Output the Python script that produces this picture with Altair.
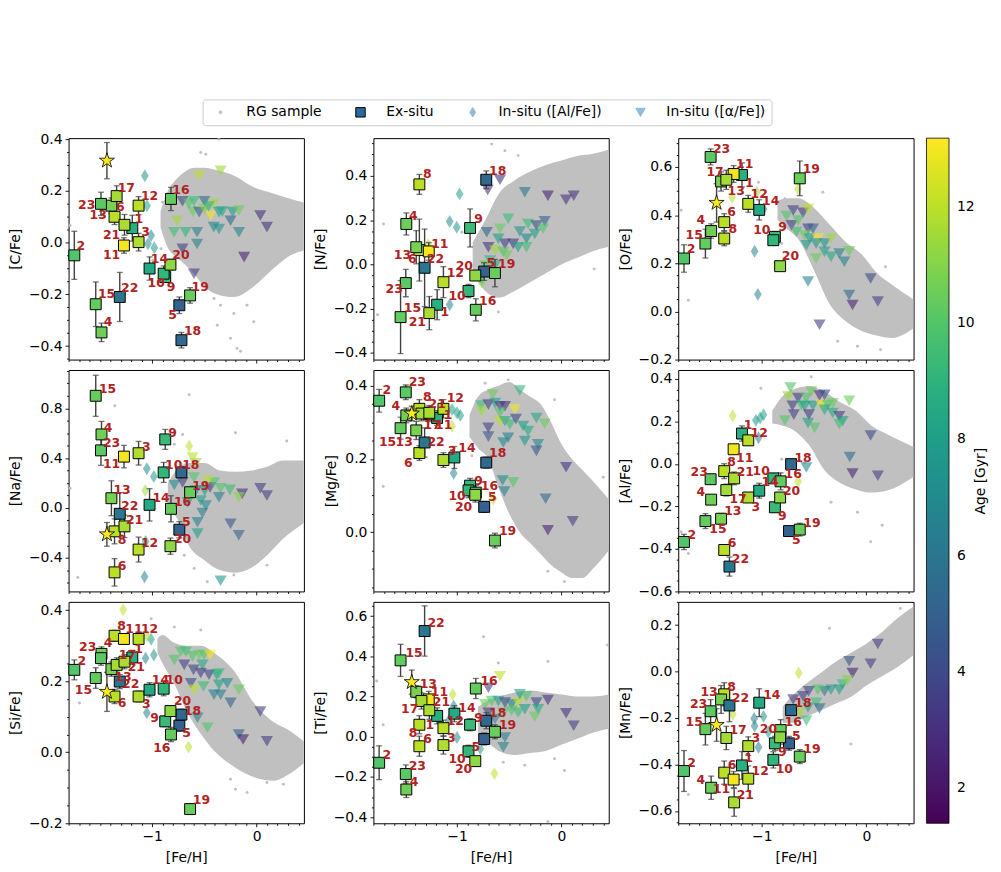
import math
import altair as alt
import pandas as pd

FONT = "DejaVu Sans"
GRAY = "#c0c0c0"
ERRC = "#404040"
RED = "#b22222"
X_DOMAIN = [-1.8, 0.452]
AGE_DOMAIN = [1.39, 13.19]
PANEL_W, PANEL_H = 237, 223

STAR_PATH = "M0,-1L0.225,-0.309L0.951,-0.309L0.363,0.118L0.588,0.809L0,0.382L-0.588,0.809L-0.363,0.118L-0.951,-0.309L-0.225,-0.309Z"
THIN_DIAMOND = "M0,-1L0.6,0L0,1L-0.6,0Z"
DOT = "M0.3,0A0.3,0.3,0,1,1,-0.3,0A0.3,0.3,0,1,1,0.3,0Z"

# ---------------- ex-situ objects (id -> [Fe/H], age) ----------------
EX_ID = [1, 2, 3, 4, 5, 6, 8, 9, 10, 11, 12, 13, 14, 15, 16, 17, 18, 19, 20, 21, 22, 23]
EX_FEH = [-1.19, -1.745, -1.13, -1.485, -0.74, -1.36, -1.36, -0.875, -0.89, -1.27, -1.13,
          -1.39, -1.025, -1.54, -0.82, -1.34, -0.72, -0.637, -0.825, -1.265, -1.31, -1.49]
EX_AGE = [8.8, 10.0, 11.8, 10.6, 5.0, 12.0, 12.0, 9.4, 9.2, 13.0, 12.0,
          10.8, 8.5, 10.4, 10.4, 11.6, 5.3, 10.5, 11.2, 11.7, 6.0, 10.2]
STAR_FEH = -1.433
STAR_AGE = 13.1

KINDS = ["RG sample", "Ex-situ", "In-situ ([Al/Fe])", "In-situ ([α/Fe])"]
KIND_FILL = [GRAY, "#2c6a9e", "#8fbbd9", "#8fbbd9"]
KIND_STROKE = [GRAY, "black", "#8fbbd9", "#8fbbd9"]
KIND_SHAPE = [DOT, "square", THIN_DIAMOND, "triangle-down"]
AGE_TICKS = [2, 4, 6, 8, 10, 12]

# ---------------- [C/Fe] ----------------
C_EX = [(1, 0.056, 0.05, -1.127, 0.092), (2, -0.049, 0.093, -1.684, -0.013), (3, 0.002, 0.034, -1.063, 0.04),
        (4, -0.347, 0.036, -1.421, -0.306), (5, -0.242, 0.032, -0.804, -0.28), (6, 0.10, 0.03, -1.304, 0.137),
        (9, -0.133, 0.02, -0.82, -0.171), (10, -0.12, 0.03, -0.962, -0.155), (11, -0.011, 0.03, -1.389, -0.047),
        (12, 0.143, 0.035, -1.025, 0.179), (13, 0.143, 0.03, -1.516, 0.105), (14, -0.10, 0.045, -0.93, -0.062),
        (15, -0.238, 0.086, -1.437, -0.197), (16, 0.169, 0.045, -0.725, 0.205), (17, 0.18, 0.04, -1.247, 0.21),
        (18, -0.377, 0.03, -0.614, -0.342), (19, -0.204, 0.03, -0.541, -0.171), (20, -0.085, 0.02, -0.725, -0.049),
        (21, 0.069, 0.04, -1.389, 0.03), (22, -0.21, 0.095, -1.215, -0.175), (23, 0.15, 0.045, -1.627, 0.146)]
C_STAR = (0.317, 0.07)
C_TRI = [(-0.71, 0.16, 4), (-0.79, 0.04, 9.5), (-0.68, 0.04, 9), (-0.76, 0.085, 11.5), (-0.61, 0.12, 10.5),
         (-0.55, 0.118, 5), (-0.50, 0.16, 5.5), (-0.44, 0.105, 13), (-0.41, 0.15, 11.5), (-0.36, 0.118, 8),
         (-0.33, 0.12, 8.5), (-0.25, 0.085, 5.5), (-0.23, 0.118, 8), (-0.17, 0.124, 10.5), (-0.17, 0.04, 6.5),
         (-0.36, 0.053, 7.5), (-0.41, 0.06, 7), (-0.57, 0.04, 6.5), (-0.57, -0.005, 6.5), (-0.71, -0.024, 3.5),
         (-0.60, -0.12, 3.5), (-0.12, -0.056, 2.5), (0.035, 0.105, 3), (0.098, 0.06, 3), (-0.55, 0.259, 12),
         (-0.345, 0.278, 11.5), (-0.65, 0.15, 10), (-0.5, 0.13, 11), (-0.46, 0.14, 9), (-0.6, 0.16, 9.5)]
C_DIA = [(-1.07, 0.259, 7.5), (-1.05, 0.143, 8), (-1.01, 0.028, 7), (-1.04, -0.004, 7), (-0.98, -0.02, 7.5)]
C_RG_X = [-0.92, -0.85, -0.79, -0.7, -0.6, -0.5, -0.376, -0.22, -0.03, 0.16, 0.32, 0.452]
C_RG_HI = [0.12, 0.2, 0.235, 0.27, 0.29, 0.29, 0.28, 0.26, 0.215, 0.19, 0.17, 0.155]
C_RG_LO = [0.06, -0.02, -0.05, -0.08, -0.12, -0.17, -0.2, -0.21, -0.17, -0.1, -0.05, -0.03]
C_RG_PTS = [(-1.785, 0.066), (-0.361, 0.4), (-0.9, 0.156), (-0.994, -0.069), (-0.487, 0.342), (-0.408, -0.216),
            (-0.377, -0.319), (-0.25, -0.37), (-0.187, -0.409), (-0.155, -0.42), (-0.345, -0.242),
            (-0.218, -0.274), (-0.092, -0.242), (-0.028, -0.306), (-0.535, 0.349), (-0.915, -0.024)]

# ---------------- [N/Fe] ----------------
N_EX = [(1, -0.182, 0.068, -1.117, -0.215), (4, 0.183, 0.05, -1.418, 0.221), (5, -0.032, 0.04, -0.674, 0.006),
        (6, 0.065, 0.14, -1.427, 0.026), (8, 0.362, 0.045, -1.285, 0.409), (9, 0.165, 0.086, -0.794, 0.206),
        (10, -0.12, 0.03, -1.0, -0.144), (11, 0.059, 0.04, -1.165, 0.093), (12, -0.08, 0.07, -1.016, -0.039),
        (13, 0.078, 0.075, -1.522, 0.044), (15, -0.238, 0.165, -1.427, -0.197), (16, -0.205, 0.05, -0.706, -0.165),
        (18, 0.383, 0.04, -0.611, 0.424), (19, -0.039, 0.062, -0.525, 0.003), (20, -0.05, 0.02, -0.93, -0.008),
        (21, -0.22, 0.075, -1.38, -0.26), (22, -0.015, 0.175, -1.206, 0.026), (23, -0.084, 0.062, -1.601, -0.113)]
N_STAR = None
N_TRI = [(-0.589, 0.383, 3), (-0.706, 0.337, 3), (-0.351, 0.326, 6), (-0.13, 0.311, 2.5), (0.044, 0.293, 3),
         (0.117, 0.311, 3), (-0.51, 0.206, 9.5), (-0.715, 0.146, 5), (-0.589, 0.161, 10.5), (-0.399, 0.149, 7.5),
         (-0.32, 0.183, 9.5), (-0.24, 0.176, 4.5), (-0.161, 0.195, 5), (-0.256, 0.138, 8), (-0.177, 0.161, 10),
         (-0.335, 0.116, 7), (-0.541, 0.093, 3.5), (-0.462, 0.093, 3.5), (-0.415, 0.078, 8), (-0.335, 0.078, 9.5),
         (-0.7, 0.078, 3), (-0.636, 0.063, 11.5), (-0.557, 0.056, 10), (-0.604, 0.116, 8), (-0.525, 0.04, 10.5),
         (-0.684, 0.018, 9), (-0.636, -0.005, 8.5), (-0.763, -0.065, 10), (-0.73, -0.005, 10.5)]
N_DIA = [(-0.975, 0.319, 8), (-1.07, 0.194, 7), (-1.003, 0.168, 7.5), (-1.07, -0.182, 6.5),
         (-0.763, -0.08, 11), (-1.275, 0.089, 12)]
N_RG_X = [-0.85, -0.73, -0.6, -0.45, -0.3, -0.15, 0.0, 0.15, 0.3, 0.452]
N_RG_HI = [0.1, 0.2, 0.32, 0.38, 0.42, 0.45, 0.47, 0.49, 0.5, 0.52]
N_RG_LO = [-0.02, -0.12, -0.15, -0.12, -0.08, -0.04, 0.0, 0.03, 0.06, 0.08]
N_RG_PTS = [(-1.76, -0.227), (-1.703, 0.183), (-0.953, 0.146), (-0.826, 0.07), (-0.668, 0.544), (-0.541, 0.514),
            (-0.415, 0.492), (-0.604, -0.215), (-0.668, -0.155), (0.313, -0.02), (-0.731, 0.1)]

# ---------------- [O/Fe] ----------------
O_EX = [(1, 0.567, 0.05, -1.12, 0.534), (2, 0.22, 0.057, -1.678, 0.261), (4, 0.334, 0.03, -1.584, 0.378),
        (6, 0.371, 0.035, -1.29, 0.415), (8, 0.303, 0.03, -1.278, 0.344), (9, 0.31, 0.02, -0.801, 0.351),
        (10, 0.296, 0.02, -1.0, 0.337), (11, 0.571, 0.035, -1.164, 0.612), (12, 0.447, 0.035, -1.025, 0.488),
        (13, 0.54, 0.04, -1.246, 0.499), (14, 0.422, 0.042, -0.915, 0.457), (15, 0.282, 0.06, -1.647, 0.316),
        (17, 0.547, 0.04, -1.448, 0.58), (19, 0.553, 0.072, -0.527, 0.592), (20, 0.188, 0.01, -0.726, 0.229),
        (23, 0.642, 0.033, -1.385, 0.674)]
O_STAR = (0.451, 0.08)
O_TRI = [(-0.7, 0.419, 3.5), (-0.606, 0.41, 3.5), (-0.763, 0.396, 10), (-0.716, 0.358, 3.5), (-0.653, 0.378, 10),
         (-0.558, 0.426, 12), (-0.558, 0.344, 4), (-0.511, 0.344, 5), (-0.669, 0.33, 9.5), (-0.59, 0.316, 10.5),
         (-0.543, 0.303, 8), (-0.464, 0.303, 13), (-0.48, 0.282, 7.5), (-0.4, 0.282, 7.5), (-0.338, 0.303, 11.5),
         (-0.574, 0.275, 8), (-0.4, 0.248, 8), (-0.338, 0.227, 8.5), (-0.259, 0.241, 6.5), (-0.211, 0.206, 6.5),
         (-0.164, 0.25, 10.5), (-0.48, 0.22, 10.5), (-0.558, 0.124, 6.5), (0.041, 0.137, 4), (-0.164, 0.068, 5.5),
         (-0.132, 0.027, 2.5), (0.11, 0.041, 3.5), (-0.448, -0.055, 3.5)]
O_DIA = [(-0.653, 0.509, 12), (-1.069, 0.25, 6.5), (-1.038, 0.071, 6.5), (-1.284, 0.474, 12),
         (-1.047, 0.495, 11.5), (-0.984, 0.426, 7.5)]
O_RG_X = [-0.85, -0.75, -0.65, -0.5, -0.35, -0.2, -0.05, 0.1, 0.25, 0.452]
O_RG_HI = [0.46, 0.47, 0.47, 0.43, 0.36, 0.29, 0.24, 0.16, 0.11, 0.05]
O_RG_LO = [0.38, 0.34, 0.3, 0.17, 0.03, -0.04, -0.08, -0.1, -0.11, -0.07]
O_RG_PTS = [(-1.773, 0.42), (-1.703, 0.047), (-0.416, 0.495), (0.136, -0.159), (-0.274, -0.124), (-0.085, -0.145),
            (0.183, 0.186), (-0.779, 0.468), (-1.032, 0.537), (-0.81, 0.282)]

# ---------------- [Na/Fe] ----------------
NA_EX = [(3, 0.439, 0.095, -1.057, 0.492), (4, 0.59, 0.105, -1.421, 0.643), (5, -0.175, 0.065, -0.674, -0.114),
         (6, -0.517, 0.11, -1.288, -0.464), (8, -0.188, 0.1, -1.288, -0.259), (9, 0.55, 0.08, -0.804, 0.603),
         (10, 0.285, 0.08, -0.794, 0.343), (11, 0.412, 0.09, -1.389, 0.351), (12, -0.334, 0.1, -1.025, -0.281),
         (13, 0.078, 0.14, -1.288, 0.147), (14, 0.025, 0.13, -0.915, 0.078), (15, 0.9, 0.165, -1.427, 0.954),
         (16, -0.007, 0.105, -0.709, 0.051), (18, 0.285, 0.04, -0.63, 0.343), (19, 0.126, 0.03, -0.535, 0.179),
         (20, -0.307, 0.065, -0.709, -0.252), (21, -0.148, 0.09, -1.168, -0.095), (22, -0.047, 0.17, -1.215, 0.014),
         (23, 0.462, 0.12, -1.389, 0.524)]
NA_STAR = (-0.212, 0.095)
NA_TRI = [(-0.788, 0.184, 7), (-0.709, 0.205, 3.5), (-0.582, 0.139, 6), (-0.497, 0.139, 8), (-0.446, 0.165, 3.5),
          (-0.408, 0.205, 10), (-0.345, 0.158, 10), (-0.256, 0.145, 9.5), (-0.139, 0.113, 3), (-0.171, 0.086, 11),
          (0.035, 0.158, 3.5), (0.098, 0.099, 3.5), (-0.361, 0.086, 6.5), (-0.535, 0.059, 8), (-0.661, 0.046, 8),
          (-0.487, 0.02, 7), (-0.519, -0.04, 6.5), (-0.566, -0.114, 6.5), (-0.566, -0.206, 8), (-0.25, -0.126, 4.5),
          (-0.171, -0.219, 5), (-0.345, -0.585, 7.5), (-0.614, 0.404, 12), (-0.582, 0.359, 11.5), (-0.47, 0.218, 12),
          (-0.6, 0.245, 10)]
NA_DIA = [(-1.051, 0.315, 7), (-0.984, 0.252, 7.5), (-1.066, 0.139, 11.5), (-1.073, -0.552, 6.5),
          (-1.063, -0.27, 8), (-0.646, 0.497, 12)]
NA_RG_X = [-0.85, -0.75, -0.65, -0.5, -0.35, -0.2, -0.05, 0.1, 0.25, 0.452]
NA_RG_HI = [0.2, 0.32, 0.36, 0.36, 0.3, 0.29, 0.3, 0.33, 0.38, 0.38]
NA_RG_LO = [0.0, -0.1, -0.3, -0.42, -0.5, -0.52, -0.48, -0.38, -0.25, -0.12]
NA_RG_PTS = [(-1.785, 0.157), (-1.712, -0.559), (-1.358, 0.82), (-0.646, 0.908), (-0.709, 0.59), (-0.203, 0.603),
             (0.288, 0.537), (-0.788, 0.511), (-0.598, -0.485), (-0.472, -0.592), (-0.218, -0.538),
             (0.098, -0.459), (-0.693, -0.379)]

# ---------------- [Mg/Fe] ----------------
MG_EX = [(1, 0.312, 0.02, -1.085, 0.321), (2, 0.359, 0.031, -1.671, 0.387), (3, 0.197, 0.02, -1.047, 0.222),
         (4, 0.319, 0.02, -1.585, 0.344), (5, 0.069, 0.015, -0.661, 0.096), (6, 0.216, 0.02, -1.465, 0.188),
         (8, 0.337, 0.025, -1.285, 0.368), (9, 0.127, 0.02, -0.794, 0.141), (10, 0.114, 0.02, -1.0, 0.098),
         (11, 0.322, 0.02, -1.127, 0.294), (12, 0.337, 0.025, -1.016, 0.367), (13, 0.278, 0.025, -1.506, 0.247),
         (14, 0.204, 0.03, -0.905, 0.231), (15, 0.284, 0.03, -1.665, 0.245), (16, 0.108, 0.02, -0.69, 0.127),
         (17, 0.324, 0.02, -1.237, 0.294), (18, 0.19, 0.015, -0.611, 0.216), (19, -0.023, 0.02, -0.516, 0.003),
         (20, 0.102, 0.02, -0.937, 0.069), (21, 0.326, 0.02, -1.19, 0.351), (22, 0.245, 0.04, -1.2, 0.245),
         (23, 0.382, 0.02, -1.38, 0.409)]
MG_STAR = (0.324, 0.02)
MG_TRI = [(-0.772, 0.346, 9.5), (-0.763, 0.33, 11.5), (-0.7, 0.349, 3.5), (-0.658, 0.376, 10.5), (-0.636, 0.353, 8),
          (-0.589, 0.344, 3.5), (-0.541, 0.344, 3), (-0.589, 0.326, 10), (-0.589, 0.303, 12), (-0.7, 0.285, 3.5),
          (-0.7, 0.261, 4.5), (-0.541, 0.303, 8.5), (-0.494, 0.294, 9.5), (-0.446, 0.335, 13), (-0.399, 0.387, 9),
          (-0.437, 0.309, 4), (-0.367, 0.29, 8), (-0.32, 0.276, 8.5), (-0.24, 0.312, 8.5), (-0.161, 0.296, 10.5),
          (-0.351, 0.249, 7.5), (-0.557, 0.245, 7), (-0.51, 0.258, 6.5), (-0.225, 0.24, 7), (-0.24, 0.222, 4.5),
          (-0.563, 0.141, 7), (-0.462, 0.136, 10), (-0.547, 0.111, 6.5), (-0.152, 0.091, 5.5), (0.044, 0.177, 3),
          (-0.13, 0.005, 2.5), (0.108, 0.03, 3.5)]
MG_DIA = [(-1.047, 0.335, 8), (-1.0, 0.326, 8), (-0.968, 0.319, 8), (-1.047, 0.29, 12), (-1.032, 0.161, 6.5),
          (-0.652, 0.091, 12)]
MG_RG_X = [-0.88, -0.8, -0.7, -0.6, -0.5, -0.4, -0.3, -0.2, -0.1, 0.0, 0.1, 0.2, 0.3, 0.452]
MG_RG_HI = [0.32, 0.37, 0.39, 0.4, 0.41, 0.39, 0.37, 0.35, 0.3, 0.24, 0.2, 0.17, 0.14, 0.09]
MG_RG_LO = [0.26, 0.23, 0.2, 0.12, 0.05, 0.0, -0.03, -0.06, -0.09, -0.11, -0.125, -0.125, -0.1, -0.05]
MG_RG_PTS = [(-1.706, 0.125), (-0.731, 0.407), (-0.51, 0.416), (-0.066, 0.362), (0.028, -0.135), (-0.13, -0.107),
             (-0.858, 0.209), (0.4, 0.15)]

# ---------------- [Al/Fe] ----------------
AL_EX = [(1, 0.143, 0.036, -1.132, 0.181), (2, -0.367, 0.036, -1.669, -0.333), (3, -0.158, 0.02, -1.057, -0.203),
         (4, -0.168, 0.02, -1.584, -0.133), (5, -0.316, 0.01, -0.669, -0.359), (6, -0.405, 0.025, -1.284, -0.374),
         (8, -0.034, 0.035, -1.29, 0.011), (9, -0.204, 0.01, -0.804, -0.246), (10, -0.068, 0.01, -1.006, -0.033),
         (11, 0.069, 0.01, -1.164, 0.03), (12, 0.111, 0.02, -1.025, 0.146), (13, -0.258, 0.025, -1.278, -0.224),
         (14, -0.126, 0.035, -0.921, -0.085), (15, -0.269, 0.035, -1.42, -0.305), (16, -0.082, 0.04, -0.7, -0.048),
         (17, -0.123, 0.028, -1.227, -0.165), (18, -0.001, 0.01, -0.606, 0.03), (19, -0.309, 0.03, -0.52, -0.277),
         (20, -0.158, 0.01, -0.716, -0.126), (21, -0.068, 0.03, -1.158, -0.037), (22, -0.483, 0.045, -1.205, -0.449),
         (23, -0.072, 0.02, -1.599, -0.037)]
AL_STAR = None
AL_TRI = [(-0.726, 0.359, 10), (-0.748, 0.317, 11.5), (-0.653, 0.31, 3.5), (-0.574, 0.31, 10), (-0.527, 0.341, 10.5),
          (-0.448, 0.322, 3), (-0.4, 0.325, 4), (-0.707, 0.274, 3.5), (-0.694, 0.232, 3.5), (-0.621, 0.277, 9.5),
          (-0.59, 0.271, 8), (-0.549, 0.232, 3.5), (-0.511, 0.274, 8), (-0.432, 0.277, 13), (-0.369, 0.277, 10),
          (-0.4, 0.255, 8.5), (-0.322, 0.24, 8.5), (-0.322, 0.285, 10.5), (-0.259, 0.224, 3.5), (-0.227, 0.201, 8),
          (-0.259, 0.188, 9.5), (-0.164, 0.297, 10.5), (-0.779, 0.204, 10), (-0.558, 0.193, 8), (-0.495, 0.17, 10),
          (0.041, 0.134, 4), (-0.158, 0.033, 5.5), (-0.132, -0.045, 2.5), (0.11, -0.056, 3.5), (-0.574, -0.017, 7)]
AL_DIA = [(-1.278, 0.227, 12), (-1.057, 0.205, 7.5), (-1.016, 0.216, 8), (-0.984, 0.232, 8), (-1.032, 0.123, 6.5),
          (-0.653, -0.083, 12)]
AL_RG_X = [-0.9, -0.8, -0.7, -0.55, -0.4, -0.25, -0.1, 0.05, 0.2, 0.452]
AL_RG_HI = [0.25, 0.32, 0.35, 0.365, 0.34, 0.29, 0.25, 0.18, 0.14, 0.08]
AL_RG_LO = [0.19, 0.18, 0.16, 0.09, -0.03, -0.09, -0.12, -0.135, -0.125, -0.06]
AL_RG_PTS = [(-1.773, -0.32), (-1.703, -0.421), (-1.467, -0.304), (-1.009, 0.356), (-0.527, 0.41), (0.041, -0.366),
             (0.151, -0.289), (-0.085, -0.227), (-0.81, 0.022), (-0.59, 0.007), (-0.338, -0.18)]

# ---------------- [Si/Fe] ----------------
SI_EX = [(1, 0.267, 0.02, -1.13, 0.292), (2, 0.232, 0.028, -1.674, 0.258), (3, 0.157, 0.015, -1.057, 0.137),
         (4, 0.277, 0.02, -1.421, 0.307), (5, 0.075, 0.015, -0.671, 0.055), (6, 0.157, 0.02, -1.288, 0.139),
         (8, 0.328, 0.015, -1.294, 0.356), (9, 0.087, 0.015, -0.978, 0.097), (10, 0.179, 0.02, -0.788, 0.204),
         (11, 0.319, 0.015, -1.174, 0.347), (12, 0.319, 0.015, -1.025, 0.347), (13, 0.234, 0.02, -1.278, 0.213),
         (14, 0.176, 0.02, -0.921, 0.204), (15, 0.209, 0.029, -1.658, 0.174), (16, 0.05, 0.02, -0.908, 0.013),
         (17, 0.246, 0.02, -1.237, 0.274), (18, 0.106, 0.015, -0.614, 0.115), (19, -0.16, 0.015, -0.528, -0.134),
         (20, 0.116, 0.015, -0.709, 0.143), (21, 0.255, 0.02, -1.152, 0.239), (22, 0.199, 0.02, -1.206, 0.193),
         (23, 0.265, 0.02, -1.617, 0.295)]
SI_STAR = (0.17, 0.055)
SI_TRI = [(-0.788, 0.26, 10), (-0.725, 0.283, 10), (-0.677, 0.283, 9.5), (-0.693, 0.246, 3.5), (-0.614, 0.27, 10),
          (-0.55, 0.274, 10.5), (-0.503, 0.274, 10), (-0.446, 0.274, 13), (-0.519, 0.246, 8.5), (-0.535, 0.223, 3.5),
          (-0.604, 0.232, 4), (-0.456, 0.218, 4), (-0.383, 0.218, 8), (-0.361, 0.19, 8), (-0.282, 0.194, 7),
          (-0.171, 0.176, 10.5), (-0.63, 0.194, 4), (-0.598, 0.176, 12), (-0.509, 0.185, 9.5), (-0.408, 0.162, 6.5),
          (-0.345, 0.162, 6.5), (-0.25, 0.139, 5), (0.035, 0.115, 3.5), (-0.566, 0.097, 6.5), (-0.47, 0.069, 10),
          (-0.171, 0.05, 5), (-0.13, 0.036, 2.5), (0.098, 0.031, 3.5), (-0.36, 0.222, 9.5)]
SI_DIA = [(-1.278, 0.401, 12), (-1.01, 0.318, 8), (-1.063, 0.265, 6.5), (-0.984, 0.274, 7.5), (-1.051, 0.111, 6.5),
          (-0.652, 0.015, 12), (-1.05, 0.327, 11.5)]
SI_RG_X = [-0.95, -0.9, -0.8, -0.66, -0.53, -0.41, -0.22, -0.03, 0.16, 0.32, 0.452]
SI_RG_HI = [0.32, 0.33, 0.31, 0.3, 0.3, 0.28, 0.23, 0.14, 0.085, 0.06, 0.03]
SI_RG_LO = [0.28, 0.25, 0.2, 0.11, 0.05, 0.005, -0.04, -0.07, -0.08, -0.06, -0.03]
SI_RG_PTS = [(-1.696, 0.139), (-1.009, 0.376), (-0.535, 0.344), (-0.203, -0.104), (-0.092, -0.113),
             (-0.25, -0.076), (0.098, -0.085), (0.256, -0.09), (-0.788, 0.353)]

# ---------------- [Ti/Fe] ----------------
TI_EX = [(1, 0.104, 0.04, -1.259, 0.06), (2, -0.129, 0.084, -1.671, -0.093), (3, -0.041, 0.045, -1.054, -0.006),
         (4, -0.262, 0.04, -1.411, -0.224), (5, -0.011, 0.03, -0.82, -0.052), (6, -0.047, 0.05, -1.282, -0.011),
         (8, 0.06, 0.045, -1.421, 0.017), (9, 0.06, 0.03, -0.794, 0.091), (10, -0.072, 0.03, -1.0, -0.109),
         (11, 0.186, 0.04, -1.168, 0.222), (12, 0.043, 0.04, -1.016, 0.08), (13, 0.224, 0.03, -1.275, 0.263),
         (14, 0.115, 0.04, -0.905, 0.145), (15, 0.38, 0.08, -1.411, 0.416), (16, 0.24, 0.05, -0.693, 0.276),
         (17, 0.178, 0.04, -1.453, 0.14), (18, 0.08, 0.04, -0.611, 0.117), (19, 0.025, 0.035, -0.516, 0.06),
         (20, -0.121, 0.02, -0.937, -0.159), (21, 0.132, 0.045, -1.149, 0.173), (22, 0.526, 0.125, -1.2, 0.564),
         (23, -0.185, 0.045, -1.38, -0.146)]
TI_STAR = (0.272, 0.06)
TI_TRI = [(-0.589, 0.301, 12), (-0.7, 0.244, 3.5), (-0.731, 0.162, 10.5), (-0.668, 0.178, 10), (-0.604, 0.178, 8),
          (-0.541, 0.17, 4), (-0.478, 0.162, 6.5), (-0.415, 0.17, 12), (-0.399, 0.211, 8), (-0.335, 0.202, 10),
          (-0.24, 0.17, 4), (-0.13, 0.183, 3), (-0.351, 0.137, 8), (-0.225, 0.137, 8.5), (-0.478, 0.129, 10),
          (-0.415, 0.12, 9.5), (-0.557, 0.12, 10), (-0.7, 0.12, 3.5), (-0.636, 0.088, 7), (0.044, 0.117, 3),
          (0.117, 0.055, 3.5), (-0.256, 0.1, 10.5), (-0.541, -0.003, 6.5), (-0.557, -0.052, 6.5)]
TI_DIA = [(-1.041, 0.211, 12), (-1.032, 0.153, 7.5), (-1.079, 0.08, 6.5), (-1.0, -0.003, 7), (-0.642, -0.183, 12),
          (-0.778, -0.06, 8)]
TI_RG_X = [-0.8, -0.7, -0.6, -0.45, -0.3, -0.15, 0.0, 0.15, 0.3, 0.452]
TI_RG_HI = [0.15, 0.18, 0.2, 0.22, 0.23, 0.22, 0.21, 0.2, 0.2, 0.21]
TI_RG_LO = [0.02, -0.03, -0.07, -0.09, -0.08, -0.07, -0.04, -0.01, 0.02, 0.04]
TI_RG_PTS = [(-1.769, 0.277), (-1.706, 0.06), (-0.747, 0.498), (-0.604, 0.367), (-0.13, 0.375), (0.44, 0.457),
             (-0.557, -0.126), (-0.351, -0.142), (-0.13, -0.421), (0.028, -0.167), (-0.066, -0.109)]

# ---------------- [Mn/Fe] ----------------
MN_EX = [(1, -0.404, 0.06, -1.126, -0.371), (2, -0.428, 0.088, -1.672, -0.394), (3, -0.321, 0.04, -1.057, -0.286),
         (4, -0.5, 0.05, -1.584, -0.468), (5, -0.309, 0.03, -0.669, -0.279), (6, -0.435, 0.05, -1.284, -0.404),
         (8, -0.098, 0.05, -1.29, -0.067), (9, -0.309, 0.03, -0.804, -0.347), (10, -0.38, 0.035, -0.785, -0.421),
         (11, -0.465, 0.035, -1.385, -0.506), (12, -0.461, 0.055, -1.016, -0.43), (13, -0.12, 0.06, -1.505, -0.088),
         (14, -0.134, 0.06, -0.905, -0.103), (15, -0.248, 0.068, -1.647, -0.216), (16, -0.252, 0.045, -0.7, -0.219),
         (17, -0.286, 0.05, -1.227, -0.252), (18, -0.166, 0.02, -0.606, -0.134), (19, -0.366, 0.03, -0.52, -0.333),
         (20, -0.283, 0.03, -0.937, -0.248), (21, -0.563, 0.06, -1.158, -0.532), (22, -0.146, 0.07, -1.205, -0.113),
         (23, -0.171, 0.05, -1.606, -0.141)]
MN_STAR = (-0.23, 0.07)
MN_TRI = [(-0.164, 0.044, 4.5), (-0.132, -0.006, 2.5), (0.041, 0.034, 3.5), (0.11, 0.119, 3.5), (-0.227, -0.056, 9.5),
          (-0.259, -0.078, 8), (-0.338, -0.078, 8), (-0.4, -0.085, 6.5), (-0.464, -0.078, 10), (-0.552, -0.085, 4),
          (-0.606, -0.106, 3.5), (-0.7, -0.12, 3.5), (-0.479, -0.134, 9.5), (-0.558, -0.155, 8), (-0.448, -0.159, 5.5),
          (-0.574, -0.212, 9.5), (-0.637, -0.177, 11.5), (-0.18, -0.037, 11)]
MN_DIA = [(-0.647, -0.006, 12), (-1.278, -0.184, 12), (-1.073, -0.202, 6.5), (-0.984, -0.193, 7.5),
          (-1.069, -0.234, 6.5), (-1.032, -0.326, 6.5), (-0.937, -0.26, 8)]
MN_RG_X = [-0.8, -0.7, -0.6, -0.45, -0.3, -0.15, 0.0, 0.15, 0.3, 0.452]
MN_RG_HI = [-0.15, -0.1, -0.06, -0.01, 0.04, 0.08, 0.12, 0.17, 0.23, 0.28]
MN_RG_LO = [-0.22, -0.22, -0.2, -0.17, -0.14, -0.11, -0.06, -0.02, 0.02, 0.07]
MN_RG_PTS = [(-1.703, -0.529), (-0.353, 0.186), (-0.148, -0.312), (0.325, 0.271)]

# (y title, y domain, major step, minor step, ex, star, tri, dia, rg_x, rg_lo, rg_hi, rg_pts)
PANELS = [
    ("[C/Fe]", [-0.452, 0.404], 0.2, 0.05, C_EX, C_STAR, C_TRI, C_DIA, C_RG_X, C_RG_LO, C_RG_HI, C_RG_PTS),
    ("[N/Fe]", [-0.43, 0.571], 0.2, 0.05, N_EX, N_STAR, N_TRI, N_DIA, N_RG_X, N_RG_LO, N_RG_HI, N_RG_PTS),
    ("[O/Fe]", [-0.2, 0.72], 0.2, 0.05, O_EX, O_STAR, O_TRI, O_DIA, O_RG_X, O_RG_LO, O_RG_HI, O_RG_PTS),
    ("[Na/Fe]", [-0.67, 1.107], 0.4, 0.1, NA_EX, NA_STAR, NA_TRI, NA_DIA, NA_RG_X, NA_RG_LO, NA_RG_HI, NA_RG_PTS),
    ("[Mg/Fe]", [-0.162, 0.443], 0.2, 0.05, MG_EX, MG_STAR, MG_TRI, MG_DIA, MG_RG_X, MG_RG_LO, MG_RG_HI, MG_RG_PTS),
    ("[Al/Fe]", [-0.6, 0.442], 0.2, 0.05, AL_EX, AL_STAR, AL_TRI, AL_DIA, AL_RG_X, AL_RG_LO, AL_RG_HI, AL_RG_PTS),
    ("[Si/Fe]", [-0.2, 0.4235], 0.2, 0.05, SI_EX, SI_STAR, SI_TRI, SI_DIA, SI_RG_X, SI_RG_LO, SI_RG_HI, SI_RG_PTS),
    ("[Ti/Fe]", [-0.43, 0.671], 0.2, 0.05, TI_EX, TI_STAR, TI_TRI, TI_DIA, TI_RG_X, TI_RG_LO, TI_RG_HI, TI_RG_PTS),
    ("[Mn/Fe]", [-0.653, 0.3], 0.2, 0.05, MN_EX, MN_STAR, MN_TRI, MN_DIA, MN_RG_X, MN_RG_LO, MN_RG_HI, MN_RG_PTS),
]

FEH_OF = dict(zip(EX_ID, EX_FEH))
AGE_OF = dict(zip(EX_ID, EX_AGE))


def tick_values(lo, hi, step):
    start = math.ceil(lo / step - 1e-9)
    end = math.floor(hi / step + 1e-9)
    return [round(i * step, 4) + 0.0 for i in range(start, end + 1)]


def make_axis(orient, lo, hi, minor, major, fmt, title, labels=True, title_pad=6):
    test = f"abs(datum.value / {major} - round(datum.value / {major})) < 0.01"
    kw = dict(orient=orient, values=tick_values(lo, hi, minor), format=fmt, title=title,
              grid=False, domain=False, ticks=True, tickColor="black", tickWidth=0.9,
              tickSize={"condition": {"test": test, "value": 3.5}, "value": 2.0},
              labels=labels, labelOverlap=False, labelFlush=False, labelPadding=3,
              labelFont=FONT, labelFontSize=14, labelColor="black",
              titleFont=FONT, titleFontSize=14, titleFontWeight="normal", titleColor="black",
              titlePadding=title_pad)
    if labels:
        kw["labelExpr"] = f"{test} ? datum.label : ''"
    return alt.Axis(**kw)


def build_panel(i, spec):
    ylabel, ydom, major, minor, ex, star, tri, dia, rgx, rglo, rghi, rgpts = spec
    row, col = divmod(i, 3)
    bottom = row == 2
    first = i == 0
    age_title = i == 5

    xs = alt.Scale(domain=X_DOMAIN, nice=False, zero=False)
    ys = alt.Scale(domain=ydom, nice=False, zero=False)
    cs = alt.Scale(scheme="viridis", domain=AGE_DOMAIN)
    xax = make_axis("bottom", X_DOMAIN[0], X_DOMAIN[1], 0.1, 1, ".0f",
                    "[Fe/H]" if bottom else None, labels=bottom, title_pad=7)
    yax = make_axis("left", ydom[0], ydom[1], minor, major, ".1f", ylabel, title_pad=6)

    age_legend = None
    if first:
        age_legend = alt.Legend(title=None, orient="none", legendX=864, legendY=0, direction="vertical",
                                gradientLength=690, gradientThickness=22.7, gradientStrokeColor="black",
                                gradientStrokeWidth=0.8, gradientOpacity=1, values=AGE_TICKS,
                                labelFont=FONT, labelFontSize=14,
                                labelColor="black", labelOffset=8, padding=0)

    def X(field="x"):
        return alt.X(f"{field}:Q", scale=xs, axis=xax)

    def Y(field="y"):
        return alt.Y(f"{field}:Q", scale=ys, axis=yax)

    def C():
        return alt.Color("age:Q", scale=cs, legend=age_legend)

    area_df = pd.DataFrame({"x": rgx, "lo": rglo, "hi": rghi})
    pts_df = pd.DataFrame(rgpts, columns=["x", "y"])
    tri_df = pd.DataFrame(tri, columns=["x", "y", "age"])
    dia_df = pd.DataFrame(dia, columns=["x", "y", "age"])
    ex_df = pd.DataFrame(ex, columns=["id", "y", "err", "lx", "ly"])
    ex_df["x"] = ex_df["id"].map(FEH_OF)
    ex_df["age"] = ex_df["id"].map(AGE_OF)
    ex_df["label"] = ex_df["id"].astype(str)
    err_df = ex_df[["x", "y", "err"]].copy()
    if star is not None:
        star_df = pd.DataFrame({"x": [STAR_FEH], "y": [star[0]], "err": [star[1]], "age": [STAR_AGE]})
        err_df = pd.concat([err_df, star_df[["x", "y", "err"]]], ignore_index=True)
    err_df["lo"] = err_df["y"] - err_df["err"]
    err_df["hi"] = err_df["y"] + err_df["err"]
    caps_df = pd.concat([pd.DataFrame({"x": err_df["x"], "y": err_df["lo"]}),
                         pd.DataFrame({"x": err_df["x"], "y": err_df["hi"]})], ignore_index=True)

    layers = []
    layers.append(alt.Chart(area_df).mark_area(color=GRAY, opacity=1, interpolate="monotone", clip=True)
                  .encode(x=X("x"), y=Y("lo"), y2=alt.Y2("hi:Q")))
    layers.append(alt.Chart(pts_df).mark_circle(size=9, color=GRAY, opacity=1, clip=True)
                  .encode(x=X(), y=Y()))
    layers.append(alt.Chart(dia_df).mark_point(shape=THIN_DIAMOND, filled=True, size=170, fillOpacity=0.55)
                  .encode(x=X(), y=Y(), color=C()))
    layers.append(alt.Chart(tri_df).mark_point(shape="triangle-down", filled=True, size=150, fillOpacity=0.6)
                  .encode(x=X(), y=Y(), color=C()))
    layers.append(alt.Chart(err_df).mark_rule(color=ERRC, strokeWidth=1.4)
                  .encode(x=X(), y=Y("lo"), y2=alt.Y2("hi:Q")))
    layers.append(alt.Chart(caps_df).mark_tick(orient="horizontal", size=6, thickness=1.3, color=ERRC)
                  .encode(x=X(), y=Y()))
    layers.append(alt.Chart(ex_df).mark_point(shape="square", filled=True, size=121, stroke="black",
                                              strokeWidth=1, opacity=1)
                  .encode(x=X(), y=Y(), color=C()))
    if star is not None:
        layers.append(alt.Chart(star_df).mark_point(shape=STAR_PATH, filled=True, size=256, stroke="black",
                                                    strokeWidth=0.8, opacity=1)
                      .encode(x=X(), y=Y(), color=C()))
    layers.append(alt.Chart(ex_df).mark_text(font=FONT, fontSize=12.5, fontWeight="bold", color=RED,
                                             align="center", baseline="middle")
                  .encode(x=X("lx"), y=Y("ly"), text="label:N"))
    if first:
        kind_legend = alt.Legend(title=None, orient="none", legendX=135, legendY=-39, direction="horizontal",
                                 columns=4, padding=6, strokeColor="#cccccc", cornerRadius=3, fillColor="white",
                                 symbolSize=90, symbolOffset=5, labelOffset=19, columnPadding=27,
                                 labelFont=FONT, labelFontSize=14, labelColor="black",
                                 symbolStrokeWidth=1, symbolOpacity=1)
        kind_df = pd.DataFrame({"kind": KINDS, "x": [float("nan")] * 4, "y": [float("nan")] * 4})
        layers.append(alt.Chart(kind_df).mark_point(filled=True, opacity=1).encode(
            x=X(), y=Y(),
            shape=alt.Shape("kind:N", scale=alt.Scale(domain=KINDS, range=KIND_SHAPE), legend=kind_legend),
            fill=alt.Fill("kind:N", scale=alt.Scale(domain=KINDS, range=KIND_FILL), legend=kind_legend),
            stroke=alt.Stroke("kind:N", scale=alt.Scale(domain=KINDS, range=KIND_STROKE), legend=kind_legend),
        ))

    ch = alt.layer(*layers).properties(width=PANEL_W, height=PANEL_H)
    if age_title:
        age_axis = alt.Axis(orient="right", title="Age [Gyr]", titleAngle=270, titlePadding=74,
                            titleFont=FONT, titleFontSize=14, titleFontWeight="normal",
                            titleColor="black", labels=False, ticks=False, domain=False, grid=False)
        title_layer = (alt.Chart(area_df).mark_area(opacity=0)
                       .encode(x=alt.X("x:Q", scale=xs, axis=xax),
                               y=alt.Y("lo:Q", scale=ys, axis=age_axis), y2=alt.Y2("hi:Q")))
        ch = alt.layer(ch, title_layer).resolve_axis(y="independent")
    return ch


panels = [build_panel(i, spec) for i, spec in enumerate(PANELS)]

chart = (
    alt.concat(*panels, columns=3, spacing={"row": 10.5, "column": 70}, bounds="flush")
    .resolve_scale(color="independent", fill="independent", shape="independent", stroke="independent")
    .properties(padding={"left": 0, "top": 88, "right": 5, "bottom": 5})
    .configure(font=FONT)
    .configure_view(stroke="black", strokeWidth=1)
)

chart.save("out.html", embed_options={"renderer": "svg", "actions": False})
